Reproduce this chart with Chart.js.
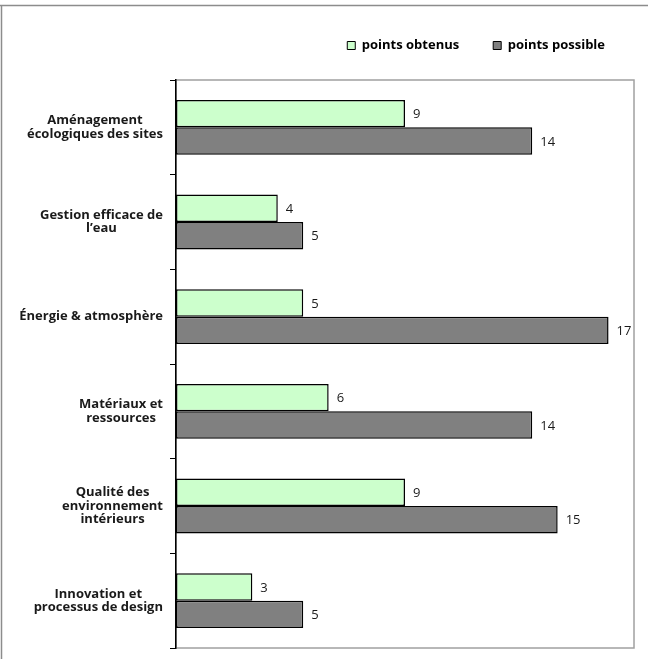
<!DOCTYPE html>
<html>
<head>
<meta charset="utf-8">
<script src="https://cdn.jsdelivr.net/npm/chart.js@4"></script>
<style>
  html, body { margin: 0; padding: 0; background: #fff; }
  #wrap { width: 648px; height: 659px; }
</style>
</head>
<body>
<div id="wrap"><canvas id="chart" width="648" height="659"></canvas></div>
<script>
const categories = [
    ["Aménagement", "écologiques des sites"],
    ["Gestion efficace de", "l’eau"],
    ["Énergie & atmosphère"],
    ["Matériaux et", "ressources"],
    ["Qualité des", "environnement", "intérieurs"],
    ["Innovation et", "processus de design"]
];
const pointsObtenus = [9, 4, 5, 6, 9, 3];
const pointsPossible = [14, 5, 17, 14, 15, 5];
const seriesNames = ["points obtenus", "points possible"];

const FONT = "'Open Sans', 'DejaVu Sans', sans-serif";

// outer frame + plot frame
const framePlugin = {
    id: 'frame',
    beforeDraw(chart) {
        const ctx = chart.ctx;
        const a = chart.chartArea;
        ctx.save();
        ctx.strokeStyle = '#8c8c8c';
        ctx.lineWidth = 1.5;
        ctx.beginPath();
        ctx.moveTo(0, 5.5);
        ctx.lineTo(chart.width, 5.5);
        ctx.moveTo(1.5, 5.5);
        ctx.lineTo(1.5, chart.height);
        ctx.stroke();
        ctx.strokeStyle = '#a0a0a0';
        ctx.lineWidth = 1.5;
        ctx.strokeRect(a.left, a.top, a.right - a.left, a.bottom - a.top);
        ctx.restore();
    }
};

// category labels: block right aligned, lines centred in the block
const catLabelPlugin = {
    id: 'catLabels',
    afterDraw(chart) {
        const ctx = chart.ctx;
        const y = chart.scales.y;
        const lineH = 13.5;
        ctx.save();
        ctx.font = "bold 13px " + FONT;
        ctx.fillStyle = '#1a1a1a';
        ctx.textBaseline = 'middle';
        ctx.textAlign = 'center';
        categories.forEach((lines, i) => {
            const cy = y.getPixelForTick(i);
            const w = Math.max(...lines.map(l => ctx.measureText(l).width));
            const cx = chart.chartArea.left - 13 - w / 2;
            const y0 = cy - (lines.length - 1) * lineH / 2;
            lines.forEach((l, k) => ctx.fillText(l, cx, y0 + k * lineH));
        });
        ctx.restore();
    }
};

// value labels at the end of each bar
const valueLabelPlugin = {
    id: 'valueLabels',
    afterDatasetsDraw(chart) {
        const ctx = chart.ctx;
        ctx.save();
        ctx.font = "13px " + FONT;
        ctx.fillStyle = '#1a1a1a';
        ctx.textBaseline = 'middle';
        ctx.textAlign = 'left';
        chart.data.datasets.forEach((ds, di) => {
            chart.getDatasetMeta(di).data.forEach((bar, i) => {
                ctx.fillText(String(ds.data[i]), bar.x + 8, bar.y + 1);
            });
        });
        ctx.restore();
    }
};

new Chart(document.getElementById('chart').getContext('2d'), {
    type: 'bar',
    data: {
        labels: categories,
        datasets: [
            {
                label: seriesNames[0],
                data: pointsObtenus,
                backgroundColor: '#ccffcc',
                borderColor: '#000',
                borderWidth: 1.5,
                borderSkipped: false
            },
            {
                label: seriesNames[1],
                data: pointsPossible,
                backgroundColor: '#808080',
                borderColor: '#000',
                borderWidth: 1.5,
                borderSkipped: false
            }
        ]
    },
    options: {
        indexAxis: 'y',
        responsive: false,
        animation: false,
        devicePixelRatio: 1,
        datasets: {
            bar: { categoryPercentage: 0.58, barPercentage: 1.0 }
        },
        layout: { padding: { top: 5, right: 9, bottom: 11, left: 0 } },
        plugins: {
            tooltip: { enabled: false },
            legend: {
                position: 'top',
                align: 'end',
                labels: {
                    boxWidth: 8,
                    boxHeight: 8,
                    padding: 34,
                    color: '#1a1a1a',
                    font: { family: FONT, size: 13, weight: 'bold' },
                    generateLabels(chart) {
                        return chart.data.datasets.map((ds, i) => ({
                            text: ds.label,
                            fillStyle: ds.backgroundColor,
                            strokeStyle: '#000',
                            lineWidth: 1,
                            datasetIndex: i
                        }));
                    }
                }
            }
        },
        scales: {
            x: {
                position: 'top',
                min: 0,
                max: 18,
                grid: { display: false },
                border: { display: false },
                ticks: { display: false },
                afterFit(scale) { scale.height = 18; }
            },
            y: {
                grid: {
                    offset: true,
                    drawOnChartArea: false,
                    drawTicks: true,
                    tickLength: 6,
                    color: '#000'
                },
                border: { display: true, color: '#000', width: 1.5 },
                ticks: { display: false },
                afterFit(scale) { scale.width = 176; }
            },
            y2: {
                type: 'category',
                position: 'right',
                grid: { display: false },
                border: { display: false },
                ticks: { display: false },
                afterFit(scale) { scale.width = 5; }
            }
        }
    },
    plugins: [framePlugin, catLabelPlugin, valueLabelPlugin]
});
</script>
</body>
</html>
